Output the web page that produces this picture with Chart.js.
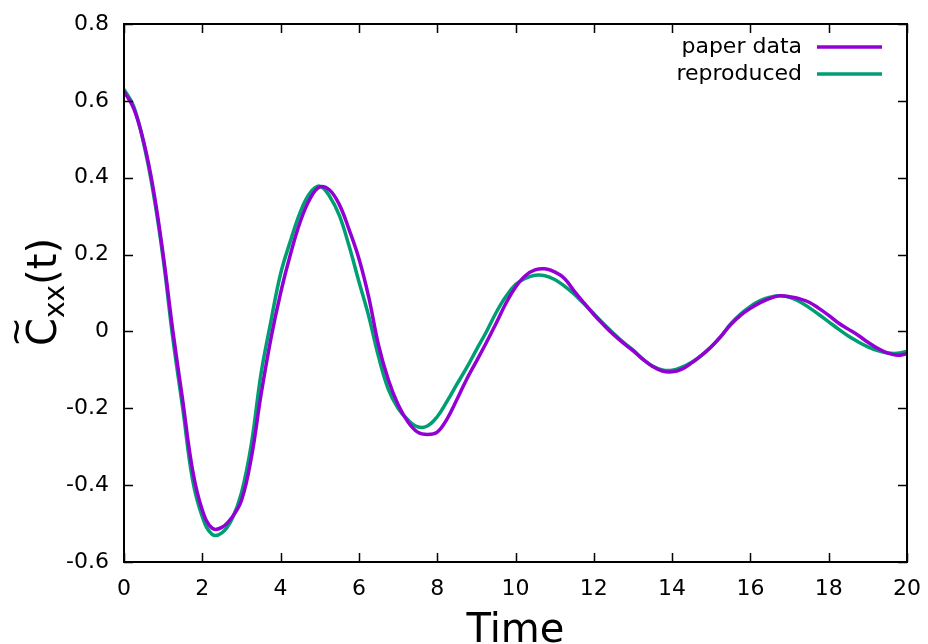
<!DOCTYPE html>
<html>
<head>
<meta charset="utf-8">
<script src="https://cdn.jsdelivr.net/npm/chart.js@4"></script>
<style>
  html, body { margin: 0; padding: 0; background: #fff; }
  #wrap { width: 928px; height: 644px; position: relative; }
</style>
</head>
<body>
<div id="wrap"><canvas id="chart" width="928" height="644"></canvas></div>
<script>
// time axis (x) samples
const times = [0, 0.25, 0.5, 0.75, 1, 1.25, 1.5, 1.75, 2, 2.25, 2.5, 2.75, 3, 3.25, 3.5, 3.75,
  4, 4.25, 4.5, 4.75, 5, 5.25, 5.5, 5.75, 6, 6.25, 6.5, 6.75, 7, 7.25, 7.5, 7.75,
  8, 8.25, 8.5, 8.75, 9, 9.25, 9.5, 9.75, 10, 10.25, 10.5, 10.75, 11, 11.25, 11.5, 11.75,
  12, 12.25, 12.5, 12.75, 13, 13.25, 13.5, 13.75, 14, 14.25, 14.5, 14.75, 15, 15.25, 15.5, 15.75,
  16, 16.25, 16.5, 16.75, 17, 17.25, 17.5, 17.75, 18, 18.25, 18.5, 18.75, 19, 19.25, 19.5, 19.75, 20];

const paperData = [0.625, 0.580, 0.495, 0.370, 0.200, 0.000, -0.180, -0.360, -0.465, -0.512, -0.510, -0.485, -0.440, -0.330, -0.165, -0.020,
  0.100, 0.200, 0.285, 0.345, 0.376, 0.368, 0.330, 0.265, 0.190, 0.090, -0.035, -0.125, -0.190, -0.235, -0.262, -0.268,
  -0.262, -0.228, -0.178, -0.125, -0.078, -0.030, 0.020, 0.072, 0.115, 0.145, 0.160, 0.163, 0.155, 0.138, 0.105, 0.074,
  0.044, 0.017, -0.008, -0.030, -0.050, -0.072, -0.091, -0.103, -0.105, -0.098, -0.082, -0.062, -0.040, -0.012, 0.018, 0.042,
  0.060, 0.075, 0.086, 0.093, 0.090, 0.085, 0.076, 0.060, 0.042, 0.022, 0.006, -0.010, -0.028, -0.044, -0.056, -0.062, -0.058];

const reproduced = [0.630, 0.585, 0.490, 0.360, 0.190, -0.020, -0.200, -0.385, -0.482, -0.528, -0.524, -0.490, -0.420, -0.295, -0.110, 0.025,
  0.150, 0.235, 0.310, 0.360, 0.378, 0.352, 0.302, 0.222, 0.130, 0.040, -0.065, -0.150, -0.200, -0.230, -0.248, -0.246,
  -0.222, -0.182, -0.138, -0.095, -0.048, -0.002, 0.048, 0.090, 0.122, 0.138, 0.146, 0.145, 0.135, 0.118, 0.097, 0.072,
  0.046, 0.020, -0.005, -0.028, -0.048, -0.072, -0.090, -0.100, -0.101, -0.093, -0.080, -0.063, -0.040, -0.013, 0.020, 0.045,
  0.065, 0.080, 0.089, 0.093, 0.089, 0.078, 0.062, 0.044, 0.025, 0.006, -0.012, -0.027, -0.040, -0.050, -0.056, -0.057, -0.052];

const xTicks = [0, 2, 4, 6, 8, 10, 12, 14, 16, 18, 20];
const yTicks = [-0.6, -0.4, -0.2, 0, 0.2, 0.4, 0.6, 0.8];

const FONT = "'DejaVu Sans', sans-serif";

const toPoints = (ys) => times.map((t, i) => ({ x: t, y: ys[i] }));

// gnuplot style frame: box border and inward ticks on all four sides
const framePlugin = {
  id: "frame",
  afterDraw(chart) {
    const { ctx, chartArea: a, scales } = chart;
    ctx.save();
    ctx.strokeStyle = "#000";
    ctx.lineWidth = 1.5;
    ctx.beginPath();
    xTicks.forEach(v => {
      const px = Math.round(scales.x.getPixelForValue(v)) + 0.5;
      ctx.moveTo(px, a.bottom); ctx.lineTo(px, a.bottom - 9);
      ctx.moveTo(px, a.top); ctx.lineTo(px, a.top + 9);
    });
    yTicks.forEach(v => {
      const py = Math.round(scales.y.getPixelForValue(v)) + 0.5;
      ctx.moveTo(a.left, py); ctx.lineTo(a.left + 9, py);
      ctx.moveTo(a.right, py); ctx.lineTo(a.right - 9, py);
    });
    ctx.stroke();
    ctx.lineWidth = 2;
    ctx.strokeRect(a.left, a.top, a.right - a.left, a.bottom - a.top);

    // legend, top right: text then line sample
    ctx.font = "22px " + FONT;
    ctx.textAlign = "right";
    ctx.textBaseline = "middle";
    chart.data.datasets.forEach((ds, i) => {
      const y = a.top + 23 + i * 27;
      ctx.fillStyle = "#000";
      ctx.fillText(ds.label, 802, y);
      ctx.strokeStyle = ds.borderColor;
      ctx.lineWidth = 3.5;
      ctx.beginPath();
      ctx.moveTo(817, y); ctx.lineTo(882, y);
      ctx.stroke();
    });

    // x title
    ctx.fillStyle = "#000";
    ctx.font = "40px " + FONT;
    ctx.textAlign = "center";
    ctx.textBaseline = "alphabetic";
    ctx.fillText("Time", (a.left + a.right) / 2, 642);

    // y title: C with a tilde, subscript xx, then (t)
    ctx.translate(56, 292);
    ctx.rotate(-Math.PI / 2);
    ctx.textAlign = "left";
    const big = "40px " + FONT, small = "28px " + FONT;
    ctx.font = big; const w1 = ctx.measureText("C").width; const w3 = ctx.measureText("(t)").width;
    ctx.font = small; const w2 = ctx.measureText("xx").width;
    let x0 = -(w1 + w2 + w3) / 2;
    ctx.font = big; ctx.fillText("C", x0, 0);
    ctx.font = small; ctx.fillText("xx", x0 + w1, 8);
    ctx.font = big; ctx.fillText("(t)", x0 + w1 + w2, 0);
    ctx.font = "36px " + FONT;
    ctx.textAlign = "center";
    ctx.textBaseline = "middle";
    ctx.fillText("~", x0 + w1 / 2, -37);
    ctx.restore();
  }
};

new Chart(document.getElementById("chart"), {
  type: "line",
  data: {
    datasets: [
      { label: "paper data", data: toPoints(paperData), borderColor: "#9400d3", borderWidth: 3.5,
        pointRadius: 0, tension: 0.4, fill: false },
      { label: "reproduced", data: toPoints(reproduced), borderColor: "#009e73", borderWidth: 3.5,
        pointRadius: 0, tension: 0.4, fill: false }
    ]
  },
  options: {
    responsive: false,
    animation: false,
    layout: { padding: { top: 24, right: 21, left: 0, bottom: 0 } },
    plugins: { legend: { display: false }, tooltip: { enabled: false } },
    scales: {
      x: {
        type: "linear", min: 0, max: 20,
        afterBuildTicks: (s) => { s.ticks = xTicks.map(v => ({ value: v })); },
        afterFit: (s) => { s.height = 82; s.paddingLeft = 0; s.paddingRight = 0; },
        grid: { display: false, drawTicks: false },
        border: { display: false },
        ticks: { color: "#000", font: { family: FONT, size: 22 }, padding: 14, maxRotation: 0 }
      },
      y: {
        type: "linear", min: -0.6, max: 0.8,
        afterBuildTicks: (s) => { s.ticks = yTicks.map(v => ({ value: v })); },
        afterFit: (s) => { s.width = 124; s.paddingTop = 0; s.paddingBottom = 0; },
        grid: { display: false, drawTicks: false },
        border: { display: false },
        ticks: { color: "#000", font: { family: FONT, size: 22 }, padding: 15,
          callback: (v) => (Math.abs(v) < 1e-9 ? "0" : Number(v).toFixed(1)) }
      }
    }
  },
  plugins: [framePlugin]
});
</script>
</body>
</html>
